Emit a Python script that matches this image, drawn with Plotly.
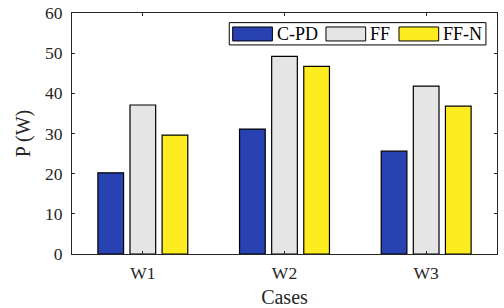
import plotly.graph_objects as go

categories = ["W1", "W2", "W3"]
series_names = ["C-PD", "FF", "FF-N"]
cpd = [20.2, 31.1, 25.6]
ff = [37.1, 49.2, 41.8]
ffn = [29.6, 46.7, 36.8]
colors = ["#2942B2", "#E5E5E5", "#FDEC20"]
y_ticks = [0, 10, 20, 30, 40, 50, 60]

font_family = "Liberation Serif"
axis_color = "#262626"
tick_font = dict(family=font_family, size=17.5, color=axis_color)

fig = go.Figure()
for name, vals, col in zip(series_names, [cpd, ff, ffn], colors):
    fig.add_trace(go.Bar(
        x=[1, 2, 3], y=vals, name=name, showlegend=False,
        marker=dict(color=col, line=dict(color="black", width=1.2)),
    ))

# MATLAB-style legend box with wide swatches (paper coordinates)
leg_x0, leg_x1, leg_y0, leg_y1 = 0.370, 0.974, 0.8675, 0.960
sw_x0 = [0.3781, 0.5976, 0.7694]
sw_w = 0.0934
sw_y0, sw_y1 = 0.884, 0.942
fig.add_shape(type="rect", xref="paper", yref="paper",
              x0=leg_x0, x1=leg_x1, y0=leg_y0, y1=leg_y1,
              line=dict(color="black", width=1), fillcolor="white", layer="above")
for name, col, x0 in zip(series_names, colors, sw_x0):
    fig.add_shape(type="rect", xref="paper", yref="paper",
                  x0=x0, x1=x0 + sw_w, y0=sw_y0, y1=sw_y1,
                  line=dict(color="black", width=1), fillcolor=col, layer="above")
    fig.add_annotation(xref="paper", yref="paper", x=x0 + sw_w + 0.006, y=(sw_y0 + sw_y1) / 2,
                       text=name, showarrow=False, xanchor="left", yanchor="middle",
                       font=dict(family=font_family, size=18, color="black"))

fig.update_layout(
    width=504, height=308,
    margin=dict(l=72, r=7, t=13, b=54, autoexpand=False),
    paper_bgcolor="white", plot_bgcolor="white",
    barmode="group", bargap=0.32, bargroupgap=0.2,
    font=dict(family=font_family, size=16, color=axis_color),
    showlegend=False,
    xaxis=dict(
        range=[0.5, 3.5], tickmode="array", tickvals=[1, 2, 3], ticktext=categories,
        tickfont=tick_font, automargin=False,
        ticks="inside", ticklen=3, tickcolor=axis_color,
        showline=True, linecolor=axis_color, linewidth=1, mirror="ticks",
        showgrid=False, zeroline=False, ticklabelstandoff=3,
        title=dict(text="Cases", font=dict(family=font_family, size=20, color=axis_color), standoff=8),
    ),
    yaxis=dict(
        range=[0, 60], tickmode="array", tickvals=y_ticks,
        tickfont=tick_font, automargin=False,
        ticks="inside", ticklen=3, tickcolor=axis_color,
        showline=True, linecolor=axis_color, linewidth=1, mirror="ticks",
        showgrid=False, zeroline=False, ticklabelstandoff=5,
        title=dict(text="P (W)", font=dict(family=font_family, size=20, color=axis_color), standoff=9),
    ),
)

fig.write_html("out.html", config={"displayModeBar": False},
               post_script="document.body.style.margin='0';")
